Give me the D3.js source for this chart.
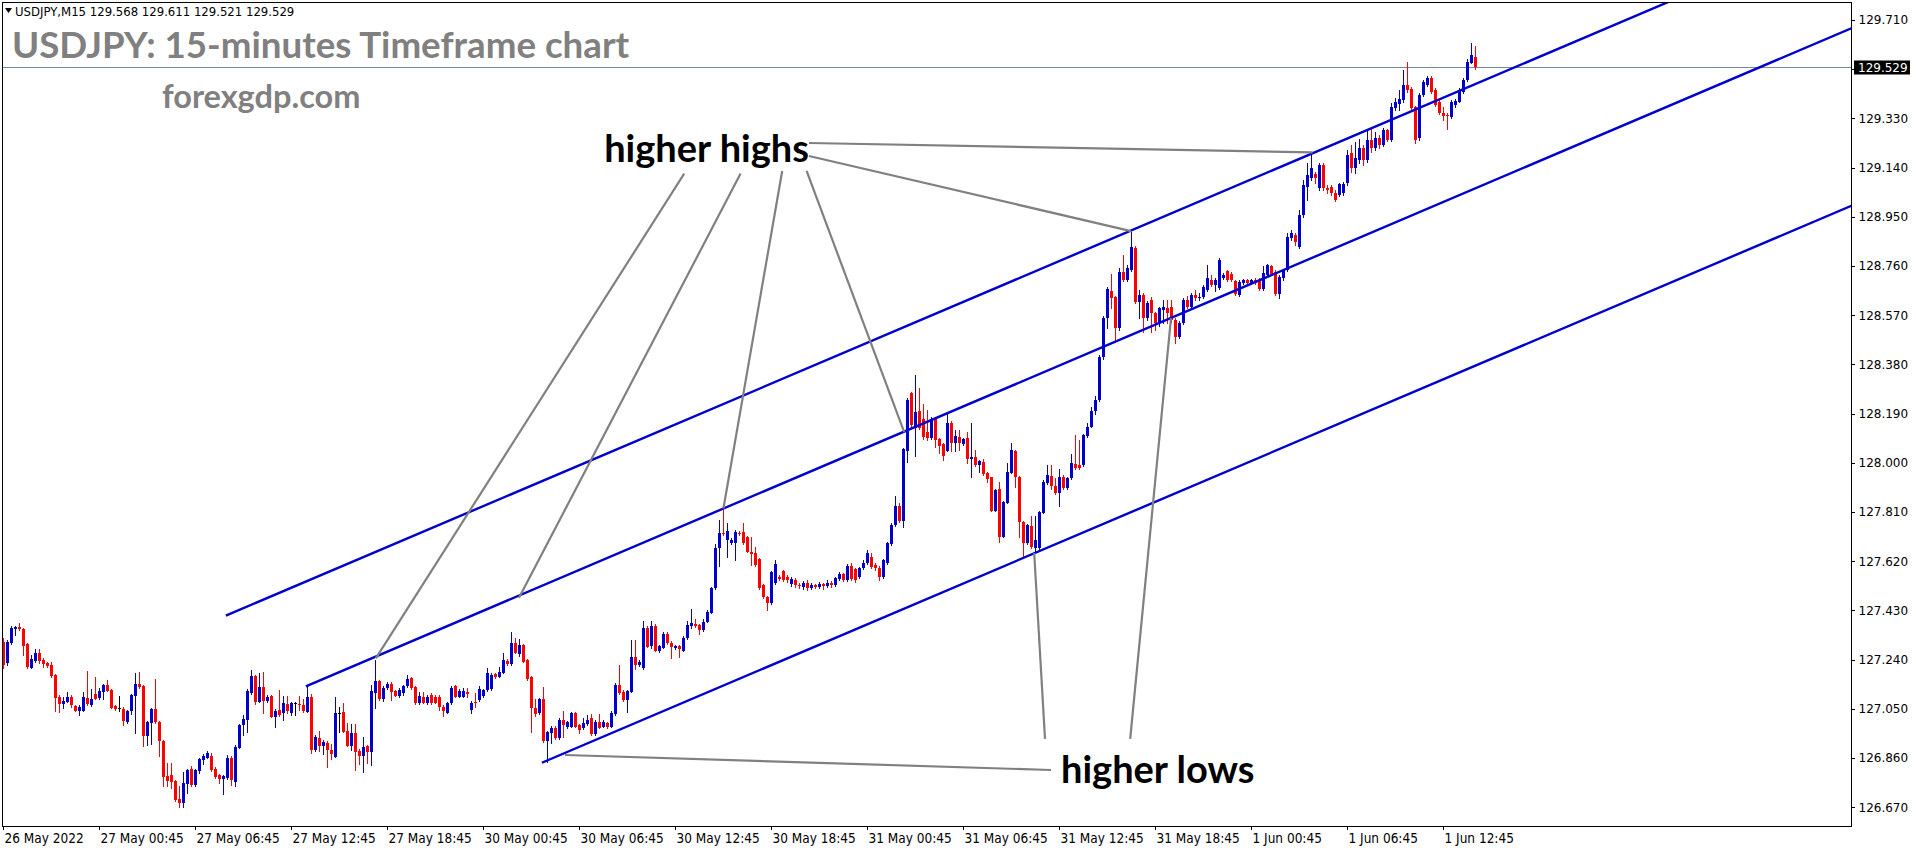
<!DOCTYPE html>
<html><head><meta charset="utf-8">
<script src="https://cdn.jsdelivr.net/npm/d3@7/dist/d3.min.js"></script>
<style>html,body{margin:0;padding:0;background:#fff;overflow:hidden}svg{display:block}</style>
</head><body>
<svg id="chart" width="1916" height="850"></svg>
<script>
// ---------------- DATA ----------------
const symbolLabel = "USDJPY,M15";
const lastQuote = ["129.568", "129.611", "129.521", "129.529"];
const titleText = "USDJPY: 15-minutes Timeframe chart";
const siteText = "forexgdp.com";
const currentPrice = 129.529;

const priceTicks = [129.710,129.520,129.330,129.140,128.950,128.760,128.570,128.380,128.190,128.000,127.810,127.620,127.430,127.240,127.050,126.860,126.670];
const timeTickBars = [0,24,48,72,96,120,144,168,192,216,240,264,288,312,336,360];
const timeTickLabels = ["26 May 2022","27 May 00:45","27 May 06:45","27 May 12:45","27 May 18:45","30 May 00:45","30 May 06:45","30 May 12:45","30 May 18:45","31 May 00:45","31 May 06:45","31 May 12:45","31 May 18:45","1 Jun 00:45","1 Jun 06:45","1 Jun 12:45"];

// 15-minute candles: [open, high, low, close]
const ohlc = [
[127.309,127.323,127.207,127.219],[127.227,127.316,127.219,127.309],[127.304,127.370,127.300,127.362],[127.359,127.370,127.335,127.365],
[127.367,127.380,127.354,127.357],[127.357,127.362,127.258,127.294],[127.300,127.304,127.206,127.212],[127.209,127.258,127.207,127.241],
[127.234,127.283,127.230,127.264],[127.267,127.283,127.226,127.234],[127.238,127.246,127.212,127.223],[127.228,127.232,127.211,127.215],
[127.218,127.232,127.173,127.177],[127.180,127.184,127.043,127.093],[127.097,127.103,127.039,127.068],[127.070,127.094,127.052,127.081],
[127.077,127.114,127.076,127.095],[127.095,127.103,127.058,127.065],[127.061,127.065,127.041,127.043],[127.043,127.065,127.026,127.058],
[127.043,127.115,127.041,127.097],[127.093,127.196,127.065,127.067],[127.065,127.128,127.061,127.088],[127.106,127.172,127.088,127.090],
[127.093,127.129,127.090,127.120],[127.116,127.146,127.090,127.142],[127.142,127.161,127.119,127.120],[127.123,127.127,127.053,127.055],
[127.061,127.065,127.045,127.051],[127.052,127.099,127.043,127.052],[127.051,127.057,126.989,127.004],[127.000,127.045,126.996,127.041],
[127.043,127.107,127.030,127.103],[127.099,127.187,126.958,127.146],[127.148,127.193,127.130,127.133],[127.138,127.142,126.906,126.945],
[126.945,127.003,126.910,126.999],[126.996,127.053,126.914,127.049],[127.049,127.165,126.995,126.999],[126.999,127.003,126.869,126.926],
[126.926,126.929,126.753,126.788],[126.790,126.841,126.753,126.771],[126.794,126.840,126.743,126.768],[126.771,126.775,126.694,126.698],
[126.702,126.752,126.672,126.687],[126.687,126.807,126.672,126.762],[126.760,126.818,126.726,126.814],[126.816,126.830,126.752,126.756],
[126.756,126.818,126.752,126.814],[126.811,126.860,126.803,126.855],[126.852,126.875,126.836,126.868],[126.861,126.887,126.860,126.878],
[126.868,126.879,126.810,126.814],[126.819,126.826,126.783,126.788],[126.794,126.798,126.765,126.779],[126.779,126.794,126.722,126.790],
[126.782,126.872,126.779,126.859],[126.861,126.868,126.756,126.775],[126.768,126.910,126.753,126.903],[126.900,126.991,126.899,126.987],
[126.987,127.026,126.949,127.010],[127.009,127.127,126.961,127.120],[127.110,127.200,127.107,127.177],[127.177,127.180,127.068,127.077],
[127.077,127.187,127.076,127.135],[127.135,127.192,127.035,127.081],[127.081,127.103,127.076,127.097],[127.099,127.103,127.018,127.019],
[127.019,127.049,126.979,127.043],[127.045,127.123,127.022,127.026],[127.033,127.099,127.009,127.071],[127.068,127.100,127.033,127.043],
[127.033,127.076,127.026,127.071],[127.071,127.076,127.026,127.071],[127.068,127.099,127.045,127.065],[127.065,127.090,127.037,127.041],
[127.039,127.138,127.037,127.094],[127.097,127.107,126.881,126.891],[126.891,126.949,126.887,126.942],[126.938,126.965,126.889,126.907],
[126.907,126.929,126.875,126.923],[126.919,126.926,126.826,126.891],[126.891,126.914,126.855,126.874],[126.865,127.097,126.864,127.033],
[127.033,127.056,126.961,127.033],[127.037,127.071,126.960,126.961],[126.964,126.996,126.906,126.907],[126.907,126.991,126.891,126.955],
[126.955,126.991,126.814,126.884],[126.888,126.895,126.836,126.868],[126.869,126.942,126.807,126.903],[126.907,126.910,126.840,126.884],
[126.884,127.142,126.833,127.120],[127.110,127.238,127.055,127.157],[127.157,127.161,127.084,127.087],[127.087,127.138,127.081,127.131],
[127.129,127.155,127.127,127.147],[127.148,127.154,127.084,127.116],[127.120,127.123,127.098,127.101],[127.101,127.131,127.095,127.123],
[127.110,127.142,127.103,127.138],[127.138,127.180,127.134,127.164],[127.168,127.172,127.127,127.129],[127.135,127.138,127.068,127.071],
[127.071,127.116,127.068,127.099],[127.097,127.116,127.072,127.074],[127.071,127.103,127.068,127.097],[127.103,127.111,127.070,127.074],
[127.097,127.103,127.072,127.074],[127.097,127.103,127.045,127.056],[127.058,127.065,127.022,127.043],[127.035,127.076,127.033,127.071],
[127.071,127.138,127.068,127.129],[127.139,127.142,127.095,127.097],[127.097,127.127,127.094,127.119],[127.097,127.129,127.095,127.119],
[127.114,127.131,127.097,127.107],[127.045,127.080,127.035,127.074],[127.077,127.110,127.058,127.075],[127.084,127.138,127.080,127.126],
[127.099,127.127,127.095,127.123],[127.123,127.207,127.119,127.187],[127.126,127.187,127.123,127.180],[127.184,127.188,127.171,127.174],
[127.174,127.213,127.173,127.193],[127.189,127.265,127.187,127.238],[127.236,127.241,127.220,127.223],[127.223,127.348,127.219,127.305],
[127.305,127.323,127.264,127.267],[127.262,127.319,127.255,127.296],[127.296,127.300,127.230,127.232],[127.238,127.242,127.161,127.164],
[127.172,127.177,126.961,127.052],[127.052,127.090,127.022,127.030],[127.033,127.092,127.030,127.087],[127.087,127.135,126.922,126.926],
[126.926,126.964,126.846,126.961],[126.958,126.984,126.919,126.975],[126.975,126.984,126.934,126.936],[126.936,127.014,126.934,127.009],
[127.007,127.043,126.942,126.987],[126.981,127.003,126.975,126.998],[126.981,127.037,126.979,127.033],[127.035,127.037,126.979,126.981],
[126.987,126.991,126.957,126.968],[126.975,127.013,126.972,126.994],[126.991,127.026,126.987,127.009],[127.016,127.030,126.949,126.953],
[126.953,127.007,126.949,127.000],[127.000,127.030,126.976,126.977],[126.981,127.007,126.979,127.000],[126.994,126.999,126.976,126.981],
[126.981,127.041,126.979,127.035],[127.030,127.149,127.026,127.144],[127.144,127.219,127.107,127.110],[127.116,127.123,127.080,127.084],
[127.084,127.123,127.039,127.119],[127.116,127.315,127.115,127.249],[127.249,127.315,127.204,127.219],[127.219,127.238,127.215,127.232],
[127.206,127.389,127.204,127.363],[127.363,127.370,127.289,127.290],[127.291,127.389,127.285,127.370],[127.370,127.378,127.273,127.275],
[127.275,127.296,127.269,127.292],[127.287,127.346,127.285,127.339],[127.341,127.346,127.300,127.303],[127.305,127.312,127.247,127.288],
[127.284,127.296,127.281,127.292],[127.292,127.296,127.251,127.280],[127.275,127.331,127.273,127.325],[127.322,127.389,127.320,127.374],
[127.371,127.434,127.362,127.380],[127.376,127.399,127.368,127.371],[127.374,127.378,127.341,127.354],[127.354,127.399,127.350,127.386],
[127.386,127.431,127.385,127.425],[127.421,127.520,127.420,127.515],[127.515,127.687,127.513,127.670],[127.670,127.779,127.603,127.728],
[127.730,127.824,127.721,127.725],[127.702,127.769,127.637,127.737],[127.690,127.710,127.687,127.702],[127.690,127.741,127.625,127.734],
[127.730,127.737,127.721,127.725],[127.734,127.769,127.687,127.690],[127.712,127.717,127.656,127.657],[127.657,127.715,127.606,127.648],
[127.651,127.676,127.602,127.606],[127.629,127.633,127.513,127.517],[127.528,127.532,127.478,127.482],[127.482,127.486,127.432,127.459],
[127.459,127.583,127.455,127.579],[127.536,127.625,127.532,127.609],[127.560,127.567,127.548,127.550],[127.583,127.587,127.544,127.548],
[127.560,127.567,127.540,127.548],[127.532,127.559,127.525,127.551],[127.548,127.555,127.521,127.528],[127.528,127.536,127.517,127.525],
[127.521,127.544,127.513,127.536],[127.536,127.548,127.509,127.517],[127.517,127.536,127.513,127.528],[127.528,127.532,127.517,127.521],
[127.521,127.540,127.517,127.532],[127.532,127.536,127.513,127.525],[127.525,127.548,127.521,127.536],[127.536,127.544,127.521,127.528],
[127.528,127.559,127.525,127.555],[127.551,127.578,127.548,127.571],[127.571,127.575,127.544,127.548],[127.548,127.609,127.544,127.603],
[127.603,127.614,127.548,127.551],[127.589,127.594,127.540,127.548],[127.560,127.598,127.555,127.593],[127.593,127.625,127.590,127.612],
[127.612,127.663,127.609,127.651],[127.638,127.653,127.594,127.599],[127.606,127.613,127.586,127.593],[127.593,127.602,127.548,127.560],
[127.560,127.629,127.555,127.625],[127.614,127.695,127.609,127.690],[127.687,127.768,127.683,127.760],[127.760,127.872,127.756,127.833],
[127.833,127.846,127.771,127.777],[127.777,128.057,127.753,128.052],[128.047,128.250,128.004,128.243],[128.268,128.272,128.133,128.146],
[128.133,128.339,128.026,128.197],[128.201,128.289,128.130,128.133],[128.168,128.227,128.092,128.099],[128.118,128.204,128.088,128.095],
[128.095,128.177,128.092,128.168],[128.172,128.177,128.062,128.088],[128.091,128.096,128.037,128.065],[128.073,128.077,128.011,128.027],
[128.047,128.191,128.046,128.155],[128.155,128.162,128.047,128.078],[128.078,128.127,128.047,128.104],[128.099,128.127,128.050,128.078],
[128.073,128.096,128.069,128.091],[128.095,128.120,127.998,128.014],[128.014,128.155,127.946,128.021],[128.021,128.050,127.988,127.992],
[127.992,128.011,127.966,128.008],[128.004,128.015,127.953,127.957],[127.960,127.965,127.927,127.936],[127.944,127.946,127.814,127.815],
[127.815,127.899,127.814,127.895],[127.898,127.927,127.696,127.715],[127.715,127.853,127.714,127.849],[127.846,127.998,127.845,127.966],
[127.962,128.078,127.961,128.050],[128.047,128.050,127.908,127.944],[127.944,127.949,127.715,127.773],[127.773,127.776,127.638,127.690],
[127.690,127.764,127.687,127.760],[127.757,127.795,127.671,127.674],[127.672,127.795,127.652,127.702],[127.670,127.815,127.666,127.811],
[127.807,127.934,127.806,127.927],[127.921,127.992,127.918,127.953],[127.949,127.992,127.900,127.910],[127.910,127.942,127.880,127.882],
[127.882,127.975,127.833,127.946],[127.946,127.953,127.899,127.902],[127.902,127.945,127.899,127.940],[127.940,128.034,127.938,128.000],
[127.996,128.107,127.976,127.979],[127.992,128.090,127.976,127.979],[127.992,128.111,127.988,128.107],[128.104,128.152,128.100,128.139],
[128.139,128.215,128.138,128.200],[128.200,128.258,128.190,128.243],[128.243,128.416,128.239,128.410],[128.410,128.567,128.400,128.558],
[128.558,128.679,128.519,128.670],[128.665,128.729,128.597,128.635],[128.639,128.644,128.474,128.519],[128.519,128.752,128.513,128.738],
[128.738,128.802,128.702,128.706],[128.706,128.764,128.702,128.751],[128.745,128.892,128.741,128.835],[128.828,128.837,128.617,128.622],
[128.622,128.667,128.559,128.648],[128.648,128.656,128.506,128.558],[128.558,128.625,128.551,128.616],[128.629,128.641,128.506,128.577],
[128.577,128.582,128.513,128.539],[128.539,128.603,128.528,128.597],[128.590,128.629,128.539,128.603],[128.597,128.629,128.539,128.577],
[128.603,128.629,128.544,128.551],[128.551,128.559,128.462,128.487],[128.487,128.548,128.482,128.541],[128.539,128.636,128.536,128.629],
[128.629,128.644,128.598,128.603],[128.603,128.656,128.598,128.648],[128.648,128.667,128.629,128.636],[128.636,128.656,128.629,128.641],
[128.641,128.687,128.636,128.680],[128.667,128.764,128.663,128.712],[128.706,128.725,128.683,128.687],[128.687,128.714,128.663,128.706],
[128.674,128.791,128.671,128.783],[128.714,128.733,128.710,128.725],[128.741,128.745,128.702,128.706],[128.728,128.737,128.702,128.706],
[128.702,128.705,128.648,128.651],[128.648,128.706,128.644,128.699],[128.693,128.710,128.690,128.706],[128.706,128.710,128.687,128.693],
[128.693,128.710,128.690,128.706],[128.706,128.714,128.690,128.693],[128.706,128.714,128.667,128.670],[128.670,128.760,128.667,128.732],
[128.725,128.768,128.721,128.764],[128.760,128.764,128.725,128.729],[128.738,128.745,128.648,128.651],[128.651,128.725,128.636,128.719],
[128.712,128.750,128.705,128.745],[128.745,128.887,128.741,128.873],[128.867,128.899,128.860,128.886],[128.880,128.887,128.841,128.854],
[128.835,128.976,128.829,128.957],[128.957,129.092,128.950,129.073],[129.066,129.156,129.015,129.111],[129.100,129.199,129.092,129.138],
[129.114,129.124,129.079,129.099],[129.060,129.158,129.053,129.150],[129.150,129.158,129.053,129.060],[129.062,129.073,129.041,129.053],
[129.066,129.073,129.034,129.041],[129.043,129.053,129.011,129.015],[129.034,129.080,129.030,129.075],[129.041,129.085,129.034,129.077],
[129.079,129.208,129.073,129.189],[129.195,129.227,129.124,129.137],[129.137,129.240,129.118,129.176],[129.169,129.249,129.156,129.214],
[129.214,129.227,129.150,129.169],[129.169,129.285,129.162,129.247],[129.247,129.293,129.200,129.216],[129.216,129.277,129.208,129.253],
[129.253,129.266,129.216,129.227],[129.227,129.293,129.223,129.285],[129.285,129.289,129.243,129.247],[129.247,129.389,129.243,129.375],
[129.369,129.408,129.362,129.394],[129.385,129.440,129.362,129.405],[129.401,129.517,129.393,129.459],[129.459,129.549,129.432,129.440],
[129.442,129.451,129.365,129.369],[129.373,129.378,129.235,129.247],[129.253,129.428,129.247,129.420],[129.420,129.478,129.416,129.469],
[129.459,129.494,129.455,129.487],[129.487,129.494,129.428,129.433],[129.440,129.447,129.378,129.382],[129.394,129.401,129.347,129.350],
[129.350,129.375,129.324,129.339],[129.343,129.351,129.289,129.341],[129.336,129.401,129.331,129.394],[129.382,129.405,129.374,129.398],
[129.394,129.447,129.393,129.440],[129.433,129.486,129.428,129.478],[129.478,129.559,129.474,129.549],[129.545,129.620,129.544,129.575],
[129.568,129.611,129.521,129.529]
];

// Channel trend lines (rays): two anchors [bar index, price]
const channelLines = [
  [[56, 127.412], [282, 128.897]],
  [[76, 127.139], [180, 127.823]],
  [[135, 126.844], [258, 127.652]]
];

// Annotation labels and their pointer lines [bar index, price]
const annotationLabels = ["higher highs", "higher lows"];
const annotationAnchors = [[150.3, 129.160], [264.5, 126.764]];
const highPointers = [
  [[170.3, 129.117], [93.2, 127.245]],
  [[184.4, 129.117], [129.0, 127.479]],
  [[194.8, 129.127], [180.1, 127.824]],
  [[200.9, 129.127], [225.3, 128.119]],
  [[201.5, 129.185], [282.0, 128.895]],
  [[201.5, 129.235], [327.4, 129.199]]
];
const lowPointers = [
  [[140.5, 126.872], [262.0, 126.814]],
  [[260.5, 126.934], [257.8, 127.652]],
  [[281.8, 126.934], [292.0, 128.559]]
];

// ---------------- DRAW ----------------
const svg = d3.select("#chart");
const P = {l: 2, t: 2, r: 1852, b: 826};
const x = d3.scaleLinear().domain([-0.25, 462.25]).range([P.l, P.r]);
const y = d3.scaleLinear().domain([126.670, 129.710]).range([807.3, 20]);

svg.append("rect").attr("width", 1916).attr("height", 850).attr("fill", "#fff");
svg.append("defs").append("clipPath").attr("id", "clip")
  .append("rect").attr("x", P.l).attr("y", P.t).attr("width", P.r - P.l).attr("height", P.b - P.t);

const plot = svg.append("g").attr("clip-path", "url(#clip)");

// current price line
plot.append("line")
  .attr("x1", P.l).attr("x2", P.r)
  .attr("y1", Math.round(y(currentPrice)) + 0.5).attr("y2", Math.round(y(currentPrice)) + 0.5)
  .attr("stroke", "#778899").attr("stroke-width", 1);

// candles
const UP = "#0000cd", DN = "#ff0000", DJ = "#000000";
const col = d => d[3] > d[0] ? UP : (d[3] < d[0] ? DN : DJ);
const cx = i => Math.round(x(i));
const candles = plot.append("g").attr("shape-rendering", "crispEdges");
candles.selectAll("rect.wick").data(ohlc).join("rect").attr("class", "wick")
  .attr("x", (d, i) => cx(i))
  .attr("width", 1)
  .attr("y", d => Math.round(y(d[1])))
  .attr("height", d => Math.max(1, Math.round(y(d[2])) - Math.round(y(d[1])) + 1))
  .attr("fill", col);
candles.selectAll("rect.body").data(ohlc).join("rect").attr("class", "body")
  .attr("x", (d, i) => cx(i) - 1)
  .attr("width", 3)
  .attr("y", d => Math.round(y(Math.max(d[0], d[3]))))
  .attr("height", d => Math.max(1, Math.round(y(Math.min(d[0], d[3]))) - Math.round(y(Math.max(d[0], d[3])))))
  .attr("fill", col);

// channel rays
const xEnd = x.domain()[1];
plot.selectAll("line.chan").data(channelLines).join("line").attr("class", "chan")
  .attr("x1", d => x(d[0][0])).attr("y1", d => y(d[0][1]))
  .attr("x2", x(xEnd))
  .attr("y2", d => { const s = (d[1][1] - d[0][1]) / (d[1][0] - d[0][0]); return y(d[0][1] + s * (xEnd - d[0][0])); })
  .attr("stroke", "#0000cd").attr("stroke-width", 2.4).attr("stroke-linecap", "square");

// pointer lines
plot.selectAll("line.ptr").data(highPointers.concat(lowPointers)).join("line").attr("class", "ptr")
  .attr("x1", d => x(d[0][0])).attr("y1", d => y(d[0][1]))
  .attr("x2", d => x(d[1][0])).attr("y2", d => y(d[1][1]))
  .attr("stroke", "#808080").attr("stroke-width", 2.2);

// annotation labels
svg.selectAll("text.ann").data(annotationLabels).join("text").attr("class", "ann")
  .attr("x", (d, k) => x(annotationAnchors[k][0]))
  .attr("y", (d, k) => y(annotationAnchors[k][1]))
  .attr("font-family", "Lato, 'Open Sans', sans-serif").attr("font-weight", "bold")
  .attr("font-size", 38).attr("fill", "#000").text(d => d);

// frame
svg.append("rect").attr("x", P.l + 0.5).attr("y", P.t + 0.5)
  .attr("width", P.r - P.l - 1).attr("height", P.b - P.t)
  .attr("fill", "none").attr("stroke", "#000").attr("stroke-width", 1).attr("shape-rendering", "crispEdges");

// right price axis
const yAxis = d3.axisRight(y).tickValues(priceTicks).tickSize(3).tickPadding(4).tickFormat(d3.format(".3f"));
const ya = svg.append("g").attr("transform", `translate(${P.r - 0.5},0)`).call(yAxis);
ya.select(".domain").remove();
ya.selectAll("line").attr("stroke", "#000").attr("shape-rendering", "crispEdges");
ya.selectAll("text").attr("font-family", "'DejaVu Sans', Verdana, sans-serif").attr("font-size", 12).attr("fill", "#000");

// current price box
const cy = Math.round(y(currentPrice)) + 0.5;
svg.append("rect").attr("x", P.r + 2).attr("y", cy - 7).attr("width", 56).attr("height", 14).attr("fill", "#000");
svg.append("text").attr("x", P.r + 6).attr("y", cy).attr("dy", "0.35em")
  .attr("font-family", "'DejaVu Sans', Verdana, sans-serif").attr("font-size", 12).attr("fill", "#fff")
  .text(d3.format(".3f")(currentPrice));

// bottom time axis
const xAxis = d3.axisBottom(x).tickValues(timeTickBars).tickSize(4).tickPadding(4).tickFormat((d, k) => timeTickLabels[k]);
const xa = svg.append("g").attr("transform", `translate(0,${P.b - 0.5})`).call(xAxis);
xa.select(".domain").remove();
xa.selectAll("line").attr("stroke", "#000").attr("shape-rendering", "crispEdges");
xa.selectAll("text").attr("text-anchor", "start").attr("dx", 1)
  .attr("font-family", "'Liberation Sans Narrow', 'DejaVu Sans Condensed', 'Arial Narrow', sans-serif")
  .attr("font-size", 13.5).attr("fill", "#000");

// header info
svg.append("path").attr("d", "M5,8 L12,8 L8.5,13 Z").attr("fill", "#000");
svg.append("text").attr("x", 15).attr("y", 16)
  .attr("font-family", "'Liberation Sans Narrow', 'DejaVu Sans Condensed', sans-serif").attr("font-size", 13).attr("fill", "#000")
  .text(symbolLabel + "  " + lastQuote.join(" "));

svg.append("text").attr("x", 12).attr("y", 58)
  .attr("font-family", "Lato, 'Open Sans', sans-serif").attr("font-weight", "bold")
  .attr("font-size", 36.7).attr("fill", "#808080").text(titleText);
svg.append("text").attr("x", 162).attr("y", 108)
  .attr("font-family", "Lato, 'Open Sans', sans-serif").attr("font-weight", "bold")
  .attr("font-size", 32.5).attr("fill", "#808080").text(siteText);
</script>
</body></html>
